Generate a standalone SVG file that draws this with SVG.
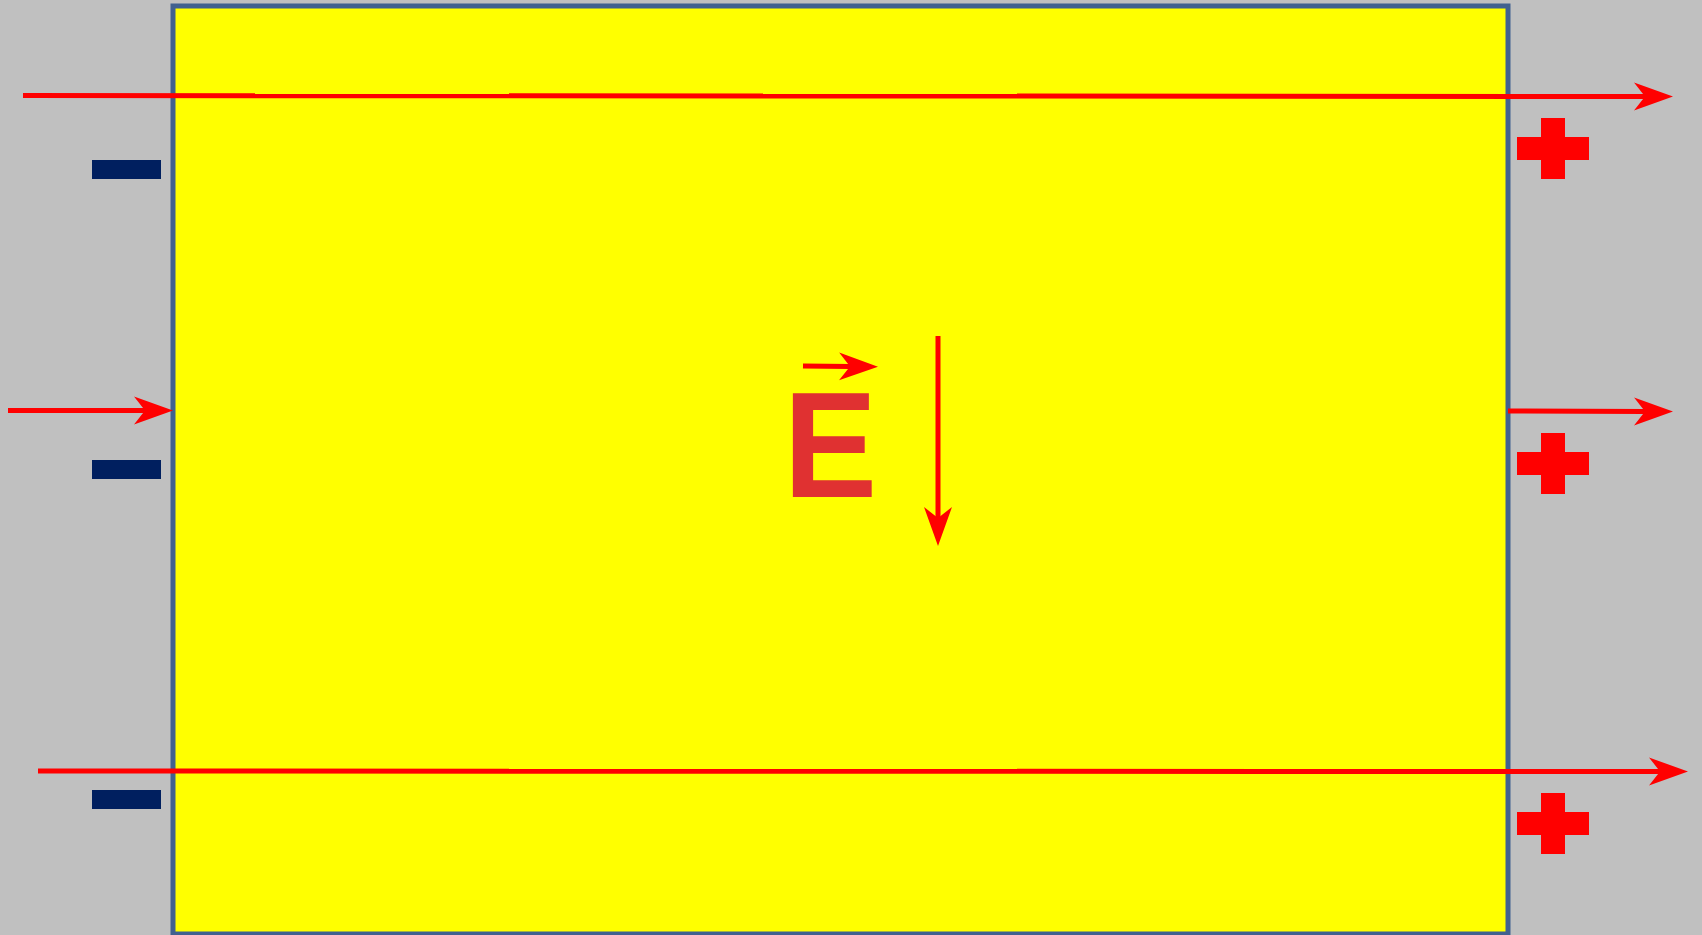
<svg xmlns="http://www.w3.org/2000/svg" width="1702" height="935" viewBox="0 0 1702 935">
  <style>
    .conn { stroke: #ff0000; stroke-width: 5; fill: none; }
    .minus { fill: #001f5f; }
    .plus { fill: #ff0000; }
    .label { font-family: "Liberation Sans", Arial, sans-serif; font-weight: bold; font-size: 151px; fill: #e03131; }
  </style>
  <defs>
    <marker id="ah" markerUnits="userSpaceOnUse" viewBox="0 -15 40 30" refX="11" refY="0" markerWidth="40" markerHeight="30" orient="auto">
      <path d="M0,-14 L39,0 L0,14 L11,0 Z" fill="#ff0000"/>
    </marker>
  </defs>
  <rect x="0" y="0" width="1702" height="935" fill="#c0c0c0"/>
  <g id="plate">
    <rect x="173" y="6" width="1335" height="928" fill="#ffff00" stroke="#41618f" stroke-width="5"/>
  </g>
  <g id="minus-signs">
    <rect class="minus" x="92" y="160" width="69" height="19"/>
    <rect class="minus" x="92" y="460" width="69" height="19"/>
    <rect class="minus" x="92" y="790" width="69" height="19"/>
  </g>
  <g id="plus-signs">
    <path class="plus" d="M1541,118 h24 v19 h24 v23 h-24 v19 h-24 v-19 h-24 v-23 h24 Z"/>
    <path class="plus" d="M1541,433 h24 v19 h24 v23 h-24 v19 h-24 v-19 h-24 v-23 h24 Z"/>
    <path class="plus" d="M1541,793 h24 v19 h24 v23 h-24 v19 h-24 v-19 h-24 v-23 h24 Z"/>
  </g>
  <g id="label-E">
    <text class="label" transform="translate(783.5,497) scale(0.93,1)" x="0" y="0">E</text>
  </g>
  <g id="connectors">
    <line class="conn" x1="23" y1="95.5" x2="1645" y2="96.5" marker-end="url(#ah)"/>
    <line class="conn" x1="8" y1="410.5" x2="145" y2="410.5" marker-end="url(#ah)"/>
    <line class="conn" x1="1508" y1="411" x2="1645" y2="411.5" marker-end="url(#ah)"/>
    <line class="conn" x1="38" y1="771" x2="1660" y2="771.5" marker-end="url(#ah)"/>
    <line class="conn" x1="803" y1="366" x2="850" y2="366.5" marker-end="url(#ah)"/>
    <line class="conn" x1="938" y1="336" x2="938" y2="518" marker-end="url(#ah)"/>
  </g>
</svg>
